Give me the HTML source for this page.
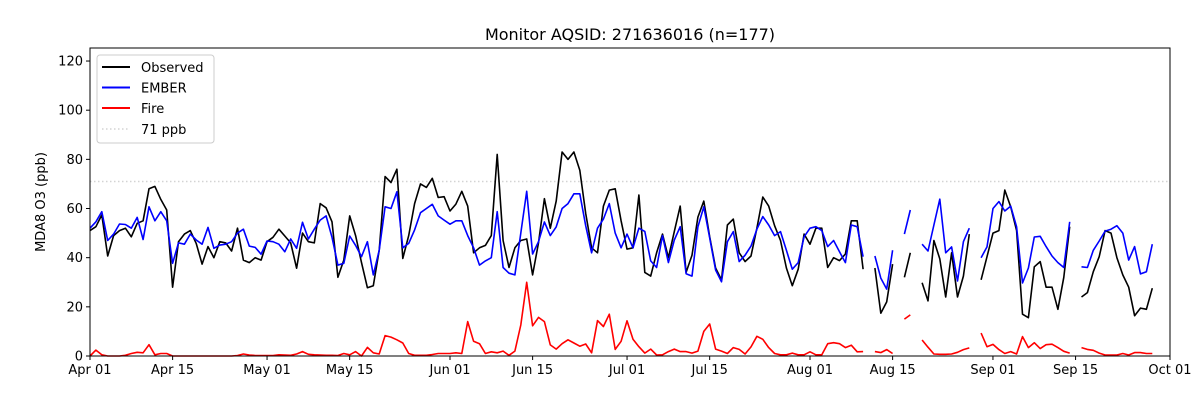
<!DOCTYPE html>
<html><head><meta charset="utf-8">
<style>
html,body{margin:0;padding:0;background:#fff;}
svg text{font-family:"DejaVu Sans","Liberation Sans",sans-serif;}
</style></head>
<body>
<svg id="chart" width="1200" height="400" xmlns="http://www.w3.org/2000/svg">
  <rect x="0" y="0" width="1200" height="400" fill="#fff"/>
  <text x="630" y="40" text-anchor="middle" font-size="16">Monitor AQSID: 271636016 (n=177)</text>
  <text transform="translate(45,202) rotate(-90)" text-anchor="middle" font-size="13">MDA8 O3 (ppb)</text>
  <g id="grid"></g>
  <g id="series"></g>
  <rect x="90" y="48" width="1080" height="308" fill="none" stroke="#000" stroke-width="1"/>
  <g id="axes"></g>
  <g id="legend">
    <rect x="97" y="55" width="117" height="88" rx="3" fill="#fff" fill-opacity="0.8" stroke="#ccc"/>
    <line x1="102" y1="67" x2="130" y2="67" stroke="#000" stroke-width="2"/>
    <text x="141" y="72" font-size="13">Observed</text>
    <line x1="102" y1="87.5" x2="130" y2="87.5" stroke="#0000ff" stroke-width="2"/>
    <text x="141" y="92.5" font-size="13">EMBER</text>
    <line x1="102" y1="108" x2="130" y2="108" stroke="#ff0000" stroke-width="2"/>
    <text x="141" y="113" font-size="13">Fire</text>
    <line x1="102" y1="129" x2="130" y2="129" stroke="#d3d3d3" stroke-width="1.5" stroke-dasharray="1.5,2.5"/>
    <text x="141" y="134" font-size="13">71 ppb</text>
  </g>
</svg>
<script>
const observed = [51,52.6,57.4,40.7,49,51,52,48.5,54,55,
68,69,63.7,59.4,28,46.5,49.6,51,45.8,37.4,
44.5,40,46.5,46,42.7,52,39,38,40,39,
46.5,48.3,51.6,48.8,46,35.7,50,46.5,46,62,
60.3,54.6,32,39,57,49,38,27.8,28.6,43,
73,70.6,76,39.7,49,62,70,68.6,72.3,64.5,
64.8,59,61.8,67,61,42,44,45,49,82,
47,36,44,47,47.6,33,46,64,52,63,
83,80,83,75.6,58,44,42,61,67.5,68,
55,43.5,44,65.5,34,32.5,42,49.6,40,50.6,
61,34,41,56.5,63,48.5,35.8,31,53.3,55.7,
42,38.4,40.7,52,64.7,61,53,47,35.8,28.6,
35.3,49.6,45.5,52,52,36,40,38.8,41.5,55,
55,35.3,null,35.8,17.4,22,37.4,null,32,42,
null,29.8,22.4,47,39.5,24,42,24,32.5,49.6,
null,31,40.4,50,51,67.5,60.7,51,17,15.6,
36.3,38.4,28,28,19,32,52.6,null,24,25.8,
34.3,40.4,51,50,40,33,28,16.4,19.5,19,27.6];
const ember = [52,54.6,58.7,47,49.6,53.7,53.5,52,56.4,47.4,
60.7,55,58.7,55,37.7,46,45.5,49.6,47.2,45.5,
52.3,43.8,45.1,45.5,46.5,50,51.6,44.7,44.2,41.4,
46.8,46.5,45.5,42.4,47.6,43.8,54.4,47.6,51.6,55.3,
57,48.3,37,37.7,48.8,45,40.4,46.5,33,43,
60.7,60,66.8,44,45.8,51.3,58.3,60,61.7,57,
55.3,53.6,55,55,49,44,37,38.7,40,58.7,
36,33.7,33,50,67,41.5,46.5,54.5,49,52.5,
60,62,66,66,53,42,52,55.7,62,50,
44,49.6,44,52,50.7,38.7,36,49,38,47.2,
52.6,33.5,32.5,52.5,60.7,48,35,30.2,46.5,50.6,
38.4,41,44.7,51.6,56.7,53.3,49,50.6,43,35.3,
38,48.5,52,52.6,51,44.5,47,42.4,38,53.3,
52.6,40.4,null,40.7,31.7,27.2,43,null,49.6,59.4,
null,45.5,42.7,53.3,63.8,42,44.4,30.5,46.5,52,
null,40,44.4,60,62.8,59,61,52.5,29.7,35.8,
48.4,48.7,44.5,40.7,38,36,54.6,null,36.3,36,
43,46.8,50.8,51.6,53,50,39,44.5,33.4,34.3,45.5];
const fire = [0,2.4,0.5,0,0,0,0.3,1,1.5,1.3,
4.6,0.5,1,1,0,0,0,0,0,0,
0,0,0,0,0,0.2,0.8,0.4,0.2,0.2,
0.2,0.2,0.5,0.4,0.3,0.8,1.8,0.7,0.5,0.4,
0.3,0.3,0.2,1,0.5,1.8,0,3.5,1.3,0.8,
8.3,7.7,6.6,5.3,1,0.3,0.3,0.3,0.6,1,
1,1,1.3,1,14,6,5,1,1.7,1.3,
2,0.3,2,12.6,30,12.3,15.7,14,4.5,2.8,
5,6.6,5.3,4,4.9,1.3,14.4,12,17,2.7,
6,14.3,6.8,3.8,1.2,2.8,0.4,0.5,1.8,2.8,
1.8,1.8,1.2,2,10,13,2.8,2,1,3.4,
2.7,0.8,3.7,8,6.8,3.4,1,0.5,0.5,1.2,
0.5,0.5,1.7,0.5,0.5,5,5.4,5,3.4,4.4,
1.7,1.8,null,1.8,1.4,2.6,1,null,15,16.7,
null,6.5,3.6,0.8,0.7,0.7,0.8,1.5,2.6,3.3,
null,9.3,3.8,4.7,2.6,1,1.8,0.8,7.9,3.4,
5.4,3,4.6,4.8,3.4,1.9,1.2,null,3.4,2.7,
2.3,1.2,0.4,0.4,0.4,1,0.4,1.4,1.4,1,1];
const xTickDays = [0,14,30,44,61,75,91,105,122,136,153,167,183];
const xTickLabels = ["Apr 01","Apr 15","May 01","May 15","Jun 01","Jun 15","Jul 01","Jul 15","Aug 01","Aug 15","Sep 01","Sep 15","Oct 01"];
const yTicks = [0,20,40,60,80,100,120];
const threshold = 71;

const NS="http://www.w3.org/2000/svg";
const X0=90,X1=1170,Y0=356,Y1=48,DMAX=183,VMAX=125.3;
function xs(d){return X0+(X1-X0)*d/DMAX;}
function ys(v){return Y0-(Y0-Y1)*v/VMAX;}
function mk(tag,attrs,parent){const e=document.createElementNS(NS,tag);for(const k in attrs)e.setAttribute(k,attrs[k]);parent.appendChild(e);return e;}

const axes=document.getElementById('axes');
xTickDays.forEach((d,i)=>{
  const t=mk('line',{x1:xs(d),x2:xs(d),y1:Y0,y2:Y0+4,stroke:'#000'},axes);
  
  
  const l=mk('text',{x:xs(d),y:Y0+18,'text-anchor':'middle','font-size':'13'},axes);
  
  
  l.textContent=xTickLabels[i];
});
yTicks.forEach(v=>{
  const t=mk('line',{x1:X0-4,x2:X0,y1:ys(v),y2:ys(v),stroke:'#000'},axes);
  
  
  const l=mk('text',{x:X0-7,y:ys(v)+4.5,'text-anchor':'end','font-size':'13'},axes);
  
  
  l.textContent=v;
});
const grid=document.getElementById('grid');
const th=mk('line',{x1:X0,x2:X1,y1:ys(threshold),y2:ys(threshold),stroke:'#d3d3d3','stroke-width':1.5,'stroke-dasharray':'1.5,2.5'},grid);



function pathFor(arr){
  let d='',pen=false;
  arr.forEach((v,i)=>{
    if(v===null){pen=false;return;}
    d+=(pen?'L':'M')+xs(i).toFixed(1)+','+ys(v).toFixed(1);
    pen=true;
  });
  return d;
}
const ser=document.getElementById('series');
const pObs=mk('path',{d:pathFor(observed),fill:'none',stroke:'#000','stroke-width':1.6,'stroke-linejoin':'round'},ser);


const pEm=mk('path',{d:pathFor(ember),fill:'none',stroke:'#0000ff','stroke-width':1.6,'stroke-linejoin':'round'},ser);


const pFi=mk('path',{d:pathFor(fire),fill:'none',stroke:'#ff0000','stroke-width':1.6,'stroke-linejoin':'round'},ser);


</script>
</body></html>
